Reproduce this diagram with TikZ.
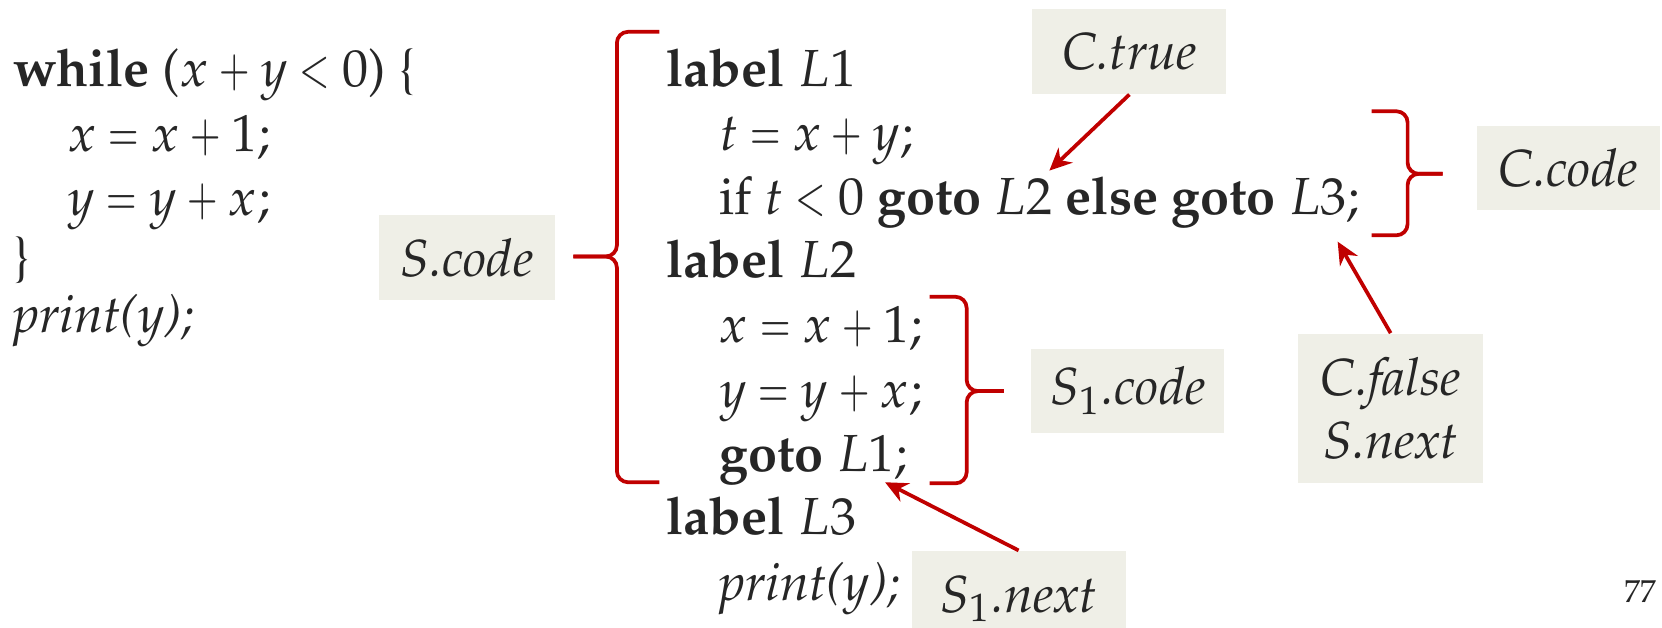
\documentclass[tikz,border=0pt]{standalone}
\usepackage[T1]{fontenc}
\usepackage{mathpazo}
\usepackage{graphicx}
\usetikzlibrary{arrows.meta}
\definecolor{txt}{RGB}{38,38,38}
\definecolor{brc}{RGB}{192,0,0}
\definecolor{boxc}{RGB}{239,239,231}
\newcommand{\Xeq}{\mathrel{\scalebox{0.72}[1]{$=$}}}
\newcommand{\Xplus}{\mathbin{\scalebox{0.72}[1]{$+$}}}
\newcommand{\Xlt}{\mathrel{\scalebox{0.72}[1]{$<$}}}
\thickmuskip=4mu plus 1mu
\medmuskip=3.5mu plus 1mu
\begin{document}
\begin{tikzpicture}[x=0.1mm,y=-0.1mm,
  code/.style={anchor=base west, inner sep=0pt, text=txt, font=\fontsize{14}{17}\selectfont},
  lbl/.style={fill=boxc, inner sep=0pt, text=txt, font=\fontsize{14}{17}\selectfont\itshape, align=center},
  bracepath/.style={draw=brc, line width=1pt, rounded corners=3pt},
  arr/.style={draw=brc, line width=1pt, -{Stealth[length=6pt,width=5.5pt]}}]
\useasboundingbox (0,0) rectangle (1568,592);
% left column
\node[code] (w1) at (12,82) {\textbf{while} ($x \Xplus y \Xlt 0$) \{};
\node[code] (w2) at (63,143) {$x \Xeq x \Xplus 1$;};
\node[code] (w3) at (63,203) {$y \Xeq y \Xplus x$;};
\node[code] (w4) at (12,259) {\}};
\node[code] (w5) at (12,314) {\textit{print(y);}};
% right column
\node[code] (r1) at (628,82) {\textbf{label} $L1$};
\node[code] (r2) at (678,142) {$t \Xeq x \Xplus y$;};
\node[code] (r3) at (678,202) {if $t \Xlt 0$ \textbf{goto} $L2$ \textbf{else goto} $L3$;};
\node[code] (r4) at (628,262) {\textbf{label} $L2$};
\node[code] (r5) at (678,323) {$x \Xeq x \Xplus 1$;};
\node[code] (r6) at (678,384) {$y \Xeq y \Xplus x$;};
\node[code] (r7) at (678,445) {\textbf{goto} $L1$;};
\node[code] (r8) at (628,504) {\textbf{label} $L3$};
\node[code] (r9) at (678,567) {\textit{print(y);}};
% boxes
\node[lbl, minimum width=166*0.1mm, minimum height=80*0.1mm] (scode) at (440.5,243) {S.code};
\node[lbl, minimum width=183*0.1mm, minimum height=80*0.1mm] (ctrue) at (1065.5,48.5) {C.true};
\node[lbl, minimum width=173*0.1mm, minimum height=79*0.1mm] (ccode) at (1479.5,158.5) {C.code};
\node[lbl, minimum width=174*0.1mm, minimum height=141*0.1mm] (cfalse) at (1312,385.5) {C.false\\S.next};
\node[lbl, minimum width=182*0.1mm, minimum height=79*0.1mm] (s1code) at (1064,369) {$S_1$.code};
\node[lbl, minimum width=202*0.1mm, minimum height=90*0.1mm] (s1next) at (961,565) {$S_1$.next};
% braces
\draw[bracepath] (622,30) -- (582,30) -- (582,242) -- (541,242);
\draw[bracepath] (541,242) -- (582,242) -- (582,455) -- (622,455);
\draw[bracepath] (1294,105) -- (1328,105) -- (1328,164) -- (1361,164);
\draw[bracepath] (1361,164) -- (1328,164) -- (1328,222) -- (1294,222);
\draw[bracepath] (877,280) -- (912,280) -- (912,369) -- (947,369);
\draw[bracepath] (947,369) -- (912,369) -- (912,456) -- (877,456);
% arrows
\coordinate (tL2) at (990,161);
\coordinate (tL3) at (1262,228);
\coordinate (tG) at (835,455);
\draw[arr] (ctrue.south) -- (tL2);
\draw[arr] (cfalse.north) -- (tL3);
\draw[arr] (s1next.north) -- (tG);
% page number
\node[anchor=base east, inner sep=0pt, text=txt, font=\fontsize{8.5}{10}\selectfont] (pg) at (1563,568) {77};
\end{tikzpicture}
\end{document}
